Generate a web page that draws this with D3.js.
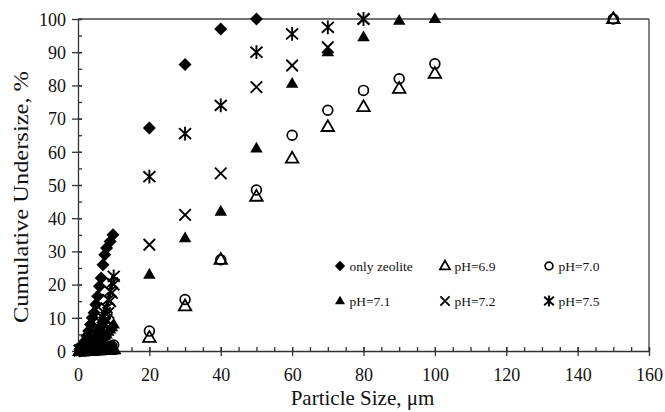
<!DOCTYPE html>
<html>
<head>
<meta charset="utf-8">
<script src="https://cdn.jsdelivr.net/npm/d3@7"></script>
<style>
  html, body { margin: 0; padding: 0; background: #fff; }
  svg { display: block; }
  text { font-family: "Liberation Serif", "Times New Roman", serif; fill: #111; }
</style>
</head>
<body>
<svg id="chart" width="665" height="412"></svg>
<script>
// Cumulative undersize (%) versus particle size (µm) for each sample
const sizeZeolite = [0.5, 1, 1.5, 2, 2.5, 3, 3.5, 4, 4.5, 5, 5.5, 6, 6.5, 7, 7.5, 8, 9, 9.8, 20, 30, 40, 50];
const undZeolite  = [0.5, 1, 1.8, 3, 4.5, 6, 8, 10, 11.5, 14, 16.5, 19.5, 22, 26, 29, 31, 33, 35, 67.2, 86.3, 97, 100];

const sizePH = [0.5, 1, 1.5, 2, 2.5, 3, 3.5, 4, 4.5, 5, 5.5, 6, 6.5, 7, 7.5, 8, 8.5, 9, 9.5, 10,
                20, 30, 40, 50, 60, 70, 80, 90, 100, 150];

const undPH69 = [0, 0, 0, 0, 0.1, 0.1, 0.1, 0.1, 0.2, 0.2, 0.2, 0.2, 0.3, 0.3, 0.3, 0.3, 0.4, 0.4, 0.5, 0.5,
                 4, 13.5, 27.5, 46.5, 58, 67.5, 73.5, 79, 83.5, 100];
const undPH70 = [0, 0, 0, 0.1, 0.1, 0.1, 0.2, 0.2, 0.3, 0.3, 0.4, 0.5, 0.6, 0.7, 0.8, 0.9, 1.1, 1.3, 1.5, 1.8,
                 6, 15.5, 27.5, 48.5, 65, 72.5, 78.5, 82, 86.5, 100];
const undPH71 = [0.1, 0.2, 0.3, 0.5, 0.7, 1, 1.2, 1.5, 1.8, 2.2, 2.6, 3, 3.5, 4, 4.5, 5, 5.8, 6.5, 7.2, 8,
                 23, 34, 42, 61, 80.5, 90, 94.5, 99.5, 100];
const undPH72 = [0.1, 0.3, 0.5, 0.8, 1.1, 1.5, 2, 2.5, 3, 3.5, 4.2, 5, 6, 7, 8.2, 9.5, 11.5, 15, 17.5, 20,
                 32, 41, 53.5, 79.5, 86, 91.5, 100];
const undPH75 = [0.2, 0.5, 0.8, 1, 1.5, 2, 2.5, 3, 4, 5, 6, 7, 8.5, 10, 11.5, 13, 15.5, 18, 20.5, 22.5,
                 52.5, 65.5, 74, 90, 95.5, 97.5, 100];

const seriesNames = ["only zeolite", "pH=6.9", "pH=7.0", "pH=7.1", "pH=7.2", "pH=7.5"];
const xTicks = [0, 20, 40, 60, 80, 100, 120, 140, 160];
const yTicks = [0, 10, 20, 30, 40, 50, 60, 70, 80, 90, 100];

const xTitle = "Particle Size, \u03bcm";
const yTitle = "Cumulative Undersize, %";

// ---- marker shapes (custom d3.symbol types) ----
const diamondType = { draw(ctx, size) { const r = Math.sqrt(size) / 2 * 1.3;
  ctx.moveTo(0, -r); ctx.lineTo(r, 0); ctx.lineTo(0, r); ctx.lineTo(-r, 0); ctx.closePath(); } };
const triangleType = { draw(ctx, size) { const s = Math.sqrt(size) * 1.25; const h = s * 0.866;
  ctx.moveTo(0, -h * 0.62); ctx.lineTo(s / 2, h * 0.38); ctx.lineTo(-s / 2, h * 0.38); ctx.closePath(); } };
const circleType = { draw(ctx, size) { const r = Math.sqrt(size) / 2 * 0.98;
  ctx.moveTo(r, 0); ctx.arc(0, 0, r, 0, 2 * Math.PI); } };
const crossType = { draw(ctx, size) { const r = Math.sqrt(size) / 2 * 1.15;
  ctx.moveTo(-r, -r); ctx.lineTo(r, r); ctx.moveTo(r, -r); ctx.lineTo(-r, r); } };
const starType = { draw(ctx, size) { const r = Math.sqrt(size) / 2 * 1.2;
  ctx.moveTo(-r, -r * 0.9); ctx.lineTo(r, r * 0.9);
  ctx.moveTo(r, -r * 0.9); ctx.lineTo(-r, r * 0.9);
  ctx.moveTo(0, -r * 1.15); ctx.lineTo(0, r * 1.15); } };

const series = [
  { name: seriesNames[0], xs: sizeZeolite, ys: undZeolite, type: diamondType, fill: "#000", stroke: "none", sw: 0 },
  { name: seriesNames[1], xs: sizePH, ys: undPH69, type: triangleType, fill: "none", stroke: "#000", sw: 1.8 },
  { name: seriesNames[2], xs: sizePH, ys: undPH70, type: circleType, fill: "none", stroke: "#000", sw: 1.7 },
  { name: seriesNames[3], xs: sizePH, ys: undPH71, type: triangleType, fill: "#000", stroke: "none", sw: 0 },
  { name: seriesNames[4], xs: sizePH, ys: undPH72, type: crossType, fill: "none", stroke: "#000", sw: 1.9 },
  { name: seriesNames[5], xs: sizePH, ys: undPH75, type: starType, fill: "none", stroke: "#000", sw: 1.9 }
];

const svg = d3.select("#chart");
const plot = { left: 78, right: 649, top: 19, bottom: 351 };

const x = d3.scaleLinear().domain([0, 160]).range([plot.left, plot.right]);
const y = d3.scaleLinear().domain([0, 100]).range([plot.bottom, plot.top]);

const symbolSize = 100;

// frame lines at the top and right
svg.append("line").attr("x1", x(0)).attr("x2", x(160)).attr("y1", y(100)).attr("y2", y(100))
  .attr("stroke", "#444").attr("stroke-width", 1.3);
svg.append("line").attr("x1", x(160)).attr("x2", x(160)).attr("y1", y(100)).attr("y2", y(0))
  .attr("stroke", "#444").attr("stroke-width", 1.3);

// minor ticks (every 5 units), drawn inside the plot area
const gx = svg.append("g").attr("transform", `translate(0,${plot.bottom})`);
gx.call(d3.axisBottom(x).tickValues(d3.range(0, 161, 5)).tickSize(-4).tickFormat(""))
  .call(g => g.select(".domain").remove());
const gy = svg.append("g").attr("transform", `translate(${plot.left},0)`);
gy.call(d3.axisLeft(y).tickValues(d3.range(0, 101, 5)).tickSize(-4).tickFormat(""))
  .call(g => g.select(".domain").remove());

// major axes with crossing ticks
const xAxis = svg.append("g").attr("transform", `translate(0,${plot.bottom})`)
  .call(d3.axisBottom(x).tickValues(xTicks).tickSize(5).tickPadding(9).tickSizeOuter(0));
xAxis.selectAll(".tick line").attr("y1", -4);
const yAxis = svg.append("g").attr("transform", `translate(${plot.left},0)`)
  .call(d3.axisLeft(y).tickValues(yTicks).tickSize(6).tickPadding(6).tickSizeOuter(0));
yAxis.selectAll(".tick line").attr("x1", 4);

[xAxis, yAxis, gx, gy].forEach(g => {
  g.selectAll("path, line").attr("stroke", "#333").attr("stroke-width", 1.3);
  g.selectAll("text").style("font-family", '"Liberation Serif", serif').style("font-size", "18px").attr("fill", "#111");
});
xAxis.selectAll("text").attr("dy", "0.9em");
yAxis.selectAll("text").attr("dy", "0.35em");

// axis titles
svg.append("text").attr("x", (x(0) + x(160)) / 2 - 1).attr("y", 405)
  .attr("text-anchor", "middle").style("font-size", "21px").text(xTitle);
svg.append("text").attr("transform", `translate(28,${(plot.top + plot.bottom) / 2 + 12}) rotate(-90)`)
  .attr("text-anchor", "middle").style("font-size", "22px")
  .attr("textLength", 252).attr("lengthAdjust", "spacingAndGlyphs").text(yTitle);

// data markers
const marks = svg.append("g");
series.forEach(s => {
  const pts = s.ys.map((v, i) => [s.xs[i], v]);
  marks.append("g").selectAll("path").data(pts).join("path")
    .attr("transform", d => `translate(${x(d[0])},${y(d[1])})`)
    .attr("d", d3.symbol().type(s.type).size(symbolSize))
    .attr("fill", s.fill).attr("stroke", s.stroke).attr("stroke-width", s.sw);
});

// legend: two rows, three columns
const legendCols = [340, 445, 549];
const legendRows = [266, 301];
const legend = svg.append("g");
series.forEach((s, i) => {
  const lx = legendCols[i % 3], ly = legendRows[Math.floor(i / 3)];
  legend.append("path").attr("transform", `translate(${lx},${ly})`)
    .attr("d", d3.symbol().type(s.type).size(64))
    .attr("fill", s.fill).attr("stroke", s.stroke).attr("stroke-width", s.sw);
  legend.append("text").attr("x", lx + 9.5).attr("y", ly + 4.5)
    .style("font-size", "13.5px").text(s.name);
});
</script>
</body>
</html>
